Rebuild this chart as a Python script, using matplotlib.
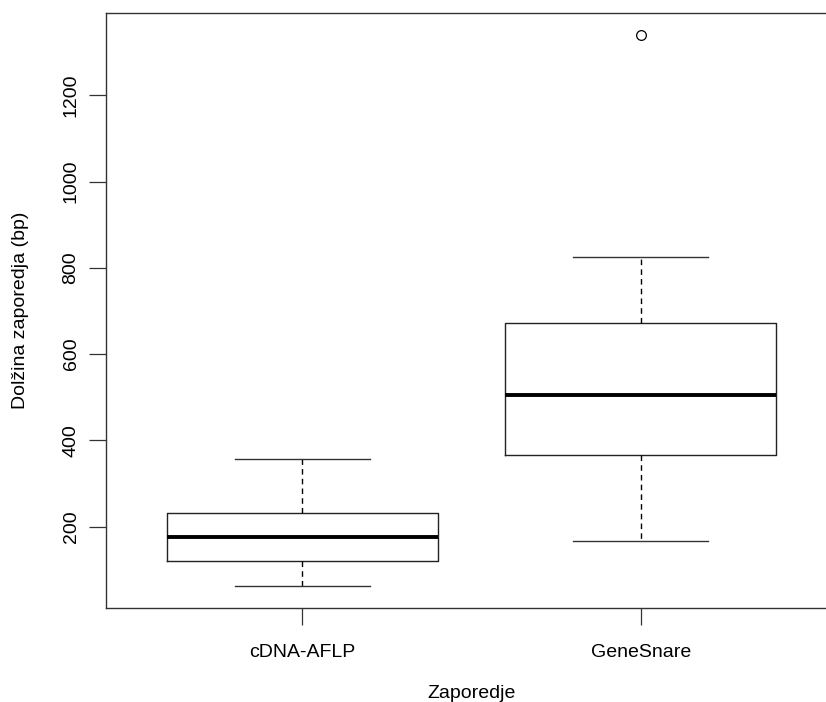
import matplotlib
matplotlib.use('Agg')
from matplotlib import pyplot as plt

plt.rcParams['font.family'] = ['Liberation Sans', 'DejaVu Sans']

# Summary statistics
groups = ['cDNA-AFLP', 'GeneSnare']
whisker_low = [63, 167]
quart_1 = [121, 366]
medians = [176, 505]
quart_3 = [232, 672]
whisker_high = [357, 825]
outliers = [[], [1340]]

y_ticks = [200, 400, 600, 800, 1000, 1200]

def build_stats():
    stats = []
    for i, name in enumerate(groups):
        stats.append({'label': name, 'whislo': whisker_low[i], 'q1': quart_1[i],
                      'med': medians[i], 'q3': quart_3[i], 'whishi': whisker_high[i],
                      'fliers': outliers[i]})
    return stats

fig = plt.figure(figsize=(8.26, 7.02), dpi=100)
# axes runs past the right edge, as in the cropped original
ax = fig.add_axes([106/826, 1 - 608/702, 731/826, 595/702])

ax.bxp(build_stats(), positions=[1, 2], widths=0.8, showfliers=True,
       boxprops=dict(color='#222222', linewidth=1.0),
       medianprops=dict(color='black', linewidth=2.8, solid_capstyle='butt'),
       whiskerprops=dict(color='black', linewidth=1.0, linestyle=(0, (4, 3))),
       capprops=dict(color='#333333', linewidth=1.0),
       flierprops=dict(marker='o', markersize=7, markerfacecolor='none',
                       markeredgecolor='black', markeredgewidth=0.9))

ax.set_xlim(0.42, 2.58)
ax.set_ylim(11.5, 1391)
ax.set_yticks(y_ticks)
ax.set_yticklabels([str(v) for v in y_ticks], rotation=90, va='center')
ax.set_xticks([1, 2])
ax.set_xticklabels(groups)
ax.tick_params(axis='both', labelsize=14, length=12, width=0.9, color='#333333', pad=7)
ax.tick_params(axis='x', pad=14)
for side in ['left', 'bottom', 'top']:
    ax.spines[side].set_color('#333333')
    ax.spines[side].set_linewidth(1.0)
ax.spines['right'].set_visible(False)

ax.set_xlabel('Zaporedje', fontsize=14, labelpad=17)
ax.set_ylabel('Dolžina zaporedja (bp)', fontsize=14, labelpad=24)

fig.savefig('out.png', dpi=100)
